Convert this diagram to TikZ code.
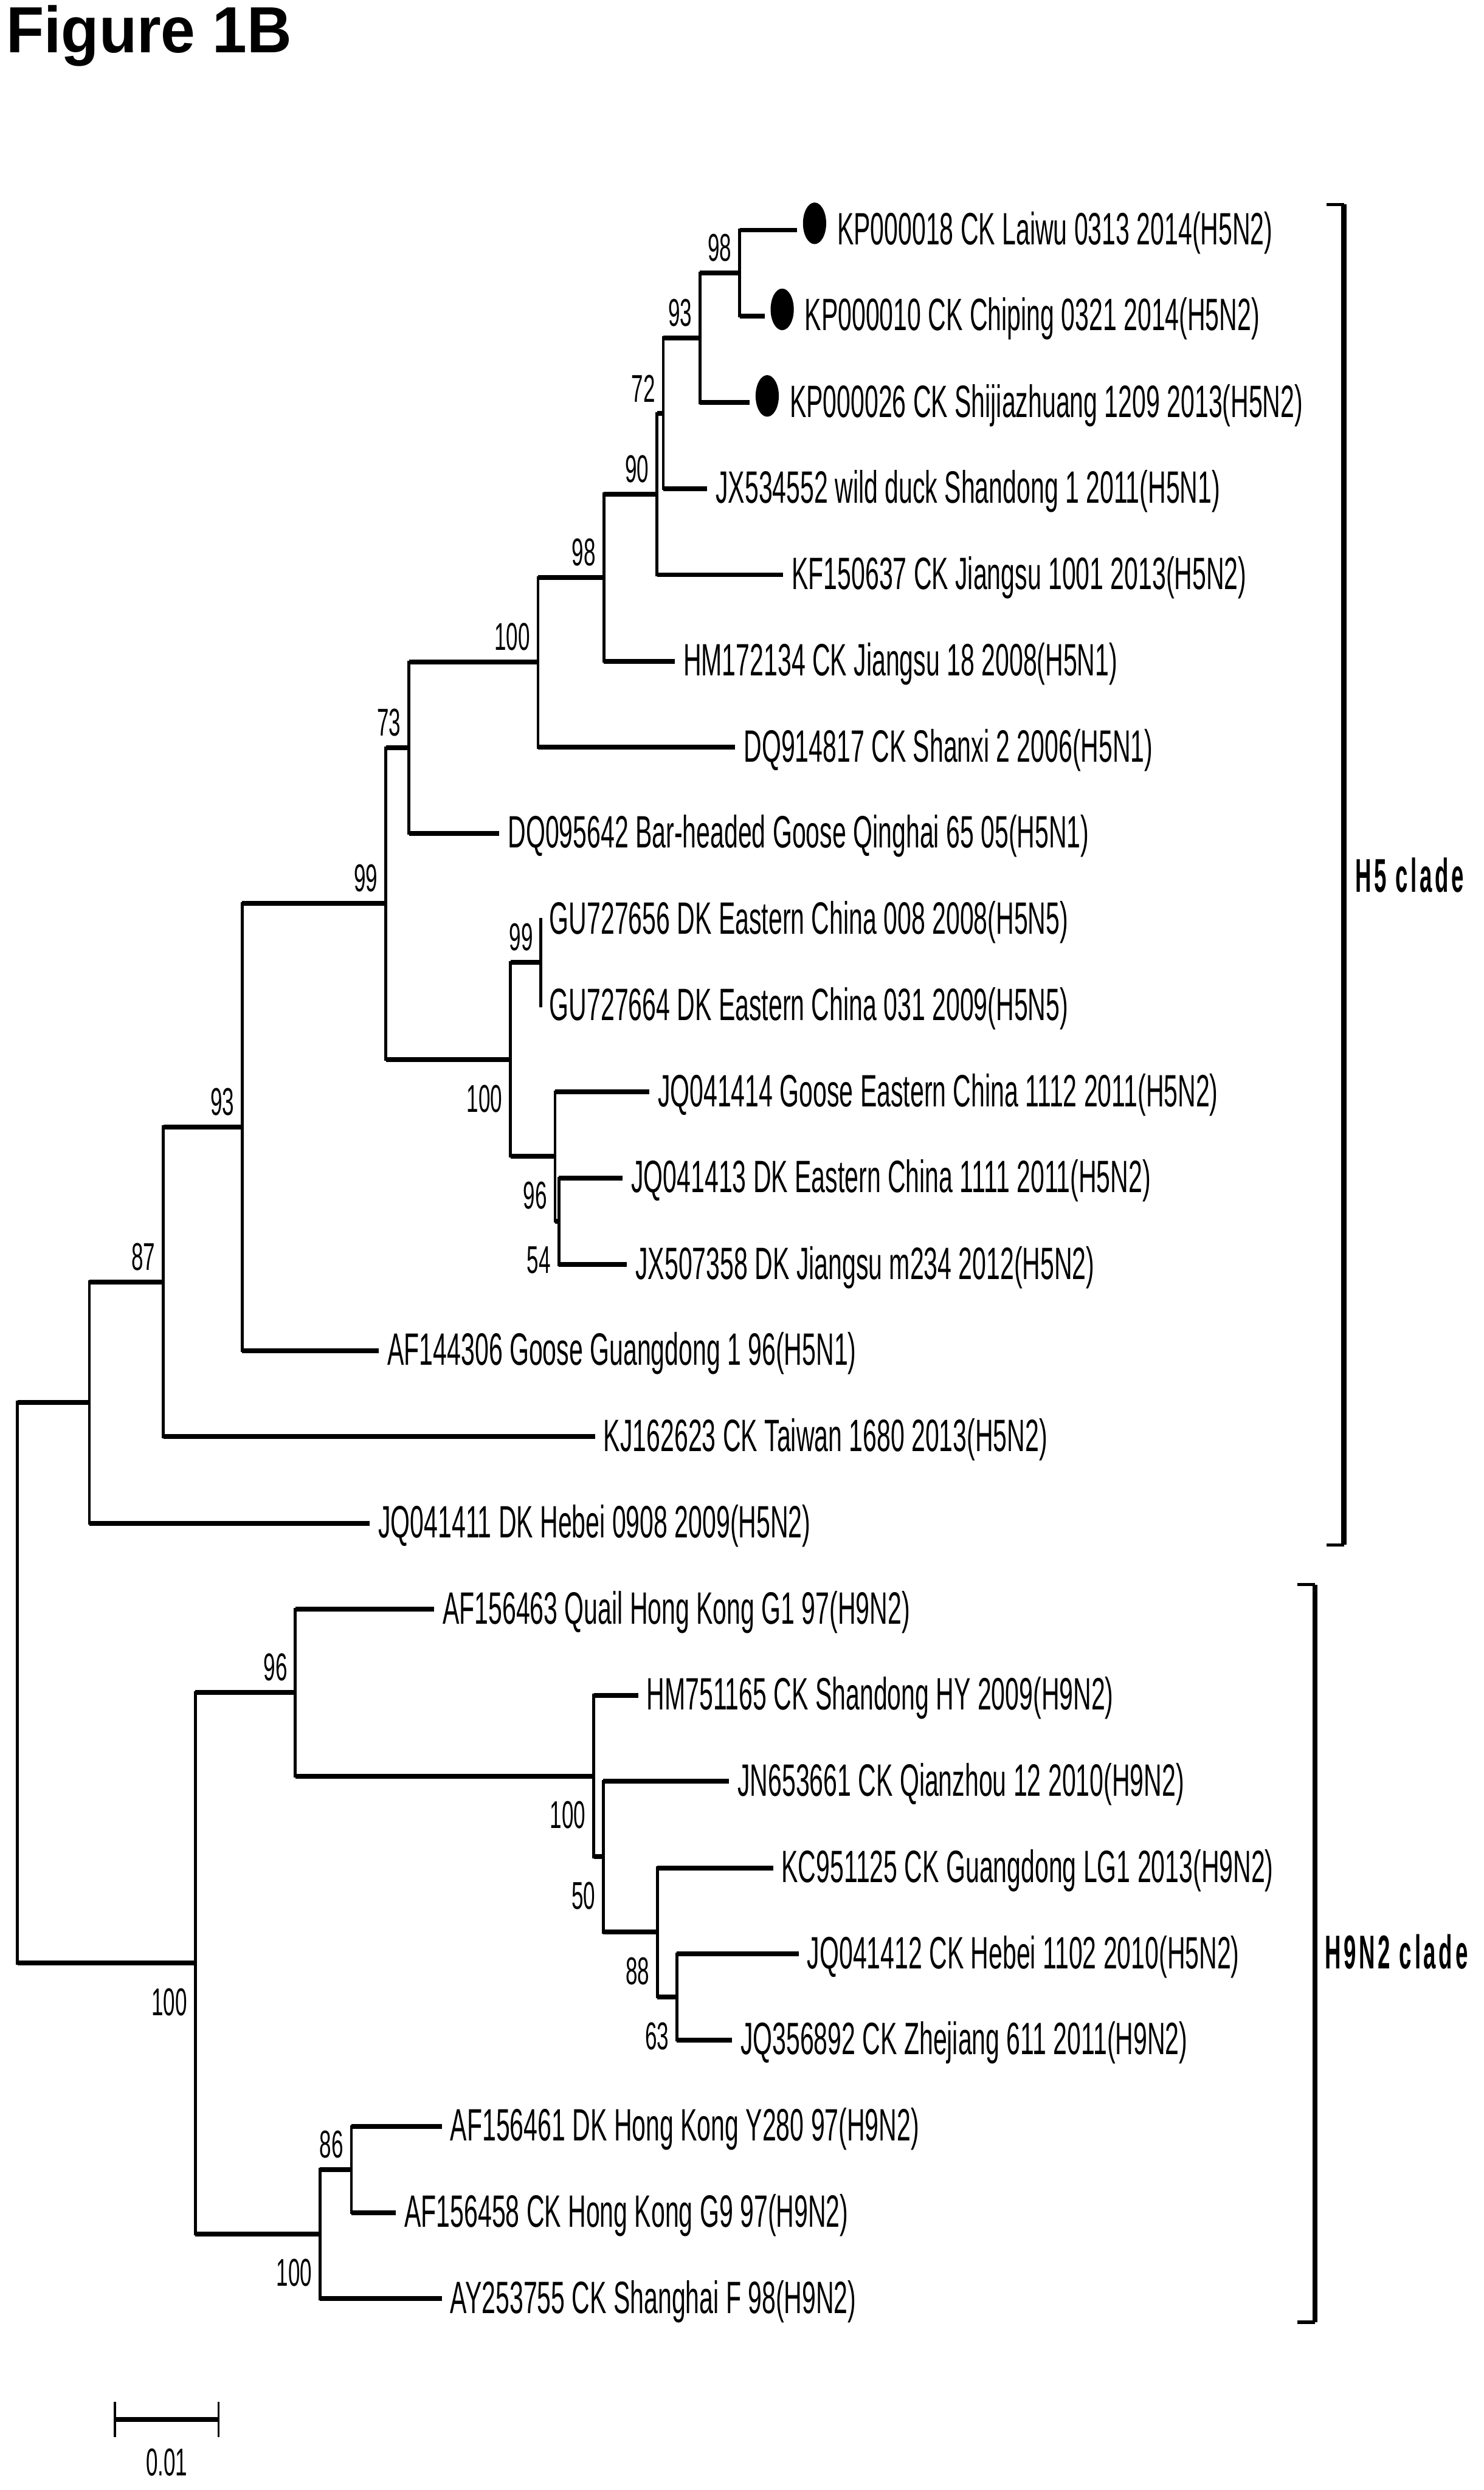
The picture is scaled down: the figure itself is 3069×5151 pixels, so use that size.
\documentclass[tikz,border=0pt]{standalone}
\usepackage{fontspec}
\usepackage{tikz}
\usetikzlibrary{positioning}
\newfontfamily\leaffont[FakeStretch=0.55]{Liberation Sans}
\newfontfamily\bsfont[FakeStretch=0.55]{Liberation Sans}
\newfontfamily\titlefont[FakeStretch=0.95]{Liberation Sans}
\newfontfamily\cladefont[FakeStretch=0.47,LetterSpace=6]{Liberation Sans}

\tikzset{
  hbr/.style={line width=1mm},
  vbr/.style={line width=0.6mm, line cap=rect},
  taxon/.style={anchor=base west, inner sep=0pt, xshift=1.7mm, yshift=-3mm,
    font=\leaffont\fontsize{26.7pt}{30pt}\selectfont},
  marked/.style={anchor=base west, inner sep=0pt, xshift=8.2mm, yshift=-3mm,
    font=\leaffont\fontsize{26.7pt}{30pt}\selectfont},
  dot/.style={fill=black},
  bsup/.style={anchor=south east, inner sep=0pt, xshift=-1.6mm, yshift=2.3mm,
    font=\bsfont\fontsize{22.8pt}{26pt}\selectfont},
  bsdn/.style={anchor=north east, inner sep=0pt, xshift=-1.6mm, yshift=-5.2mm,
    font=\bsfont\fontsize{22.8pt}{26pt}\selectfont},
  cladelab/.style={anchor=base west, inner sep=0pt,
    font=\cladefont\bfseries\fontsize{27.9pt}{30pt}\selectfont},
  brk/.style={line width=1.1mm},
  brktick/.style={line width=0.7mm},
}

% parent, upper child, lower child
\newcommand{\cladeedge}[3]{%
  \draw[vbr] (#1 |- #2) -- (#1 |- #3);
  \draw[hbr] (#1 |- #2) -- (#2);
  \draw[hbr] (#1 |- #3) -- (#3);
}

\begin{document}
\begin{tikzpicture}[x=0.1mm, y=-0.1mm]
  \useasboundingbox (0,0) rectangle (3069,5151);

  \node[anchor=base west, inner sep=0pt, font=\titlefont\bfseries\fontsize{38.4pt}{40pt}\selectfont] (title) at (12,109) {Figure 1B};

  % tips (end of branch)
  \coordinate (kp18) at (1649,476);
  \coordinate (kp10) at (1582,654);
  \coordinate (kp26) at (1551,833);
  \coordinate (jx534552) at (1463,1011);
  \coordinate (kf150637) at (1620,1189);
  \coordinate (hm172134) at (1396,1368);
  \coordinate (dq914817) at (1521,1546);
  \coordinate (dq095642) at (1033,1724);
  \coordinate (gu727656) at (1119,1902);
  \coordinate (gu727664) at (1119,2081);
  \coordinate (jq041414) at (1343,2259);
  \coordinate (jq041413) at (1288,2437);
  \coordinate (jx507358) at (1297,2616);
  \coordinate (af144306) at (784,2794);
  \coordinate (kj162623) at (1231,2972);
  \coordinate (jq041411) at (765,3151);
  \coordinate (af156463) at (898,3329);
  \coordinate (hm751165) at (1320,3507);
  \coordinate (jn653661) at (1508,3685);
  \coordinate (kc951125) at (1599,3864);
  \coordinate (jq041412) at (1652,4042);
  \coordinate (jq356892) at (1514,4220);
  \coordinate (af156461) at (914,4399);
  \coordinate (af156458) at (819,4577);
  \coordinate (ay253755) at (914,4755);

  % inner nodes
  \coordinate (n98a) at (1530,565);
  \coordinate (n93a) at (1448,699);
  \coordinate (n72) at (1372,855);
  \coordinate (n90) at (1359,1022);
  \coordinate (n98b) at (1249,1195);
  \coordinate (n100a) at (1113,1370);
  \coordinate (n73) at (846,1547);
  \coordinate (n99b) at (1119,1991);
  \coordinate (n54) at (1156,2526);
  \coordinate (n96a) at (1148,2392);
  \coordinate (n100b) at (1056,2192);
  \coordinate (n99a) at (798,1869);
  \coordinate (n93b) at (501,2331);
  \coordinate (n87) at (338,2652);
  \coordinate (h5root) at (185,2901);
  \coordinate (n63) at (1400,4131);
  \coordinate (n88) at (1360,3997);
  \coordinate (n50) at (1248,3841);
  \coordinate (n100c) at (1228,3674);
  \coordinate (n96b) at (611,3501);
  \coordinate (n86) at (727,4488);
  \coordinate (n100d) at (662,4621);
  \coordinate (h9root) at (404,4061);
  \coordinate (root) at (36,3481);

  % branches
  \cladeedge{n98a}{kp18}{kp10}
  \cladeedge{n93a}{n98a}{kp26}
  \cladeedge{n72}{n93a}{jx534552}
  \cladeedge{n90}{n72}{kf150637}
  \cladeedge{n98b}{n90}{hm172134}
  \cladeedge{n100a}{n98b}{dq914817}
  \cladeedge{n73}{n100a}{dq095642}
  \cladeedge{n99b}{gu727656}{gu727664}
  \cladeedge{n54}{jq041413}{jx507358}
  \cladeedge{n96a}{jq041414}{n54}
  \cladeedge{n100b}{n99b}{n96a}
  \cladeedge{n99a}{n73}{n100b}
  \cladeedge{n93b}{n99a}{af144306}
  \cladeedge{n87}{n93b}{kj162623}
  \cladeedge{h5root}{n87}{jq041411}
  \cladeedge{n63}{jq041412}{jq356892}
  \cladeedge{n88}{kc951125}{n63}
  \cladeedge{n50}{jn653661}{n88}
  \cladeedge{n100c}{hm751165}{n50}
  \cladeedge{n96b}{af156463}{n100c}
  \cladeedge{n86}{af156461}{af156458}
  \cladeedge{n100d}{n86}{ay253755}
  \cladeedge{h9root}{n96b}{n100d}
  \cladeedge{root}{h5root}{h9root}

  % marked strains
  \foreach \t in {kp18,kp10,kp26}
    \fill[dot] ([xshift=3.6mm, yshift=1.4mm]\t) ellipse [x radius=2.4mm, y radius=4.3mm];
  \node[marked] (lab-kp18) at (kp18) {KP000018 CK Laiwu 0313 2014(H5N2)};
  \node[marked] (lab-kp10) at (kp10) {KP000010 CK Chiping 0321 2014(H5N2)};
  \node[marked] (lab-kp26) at (kp26) {KP000026 CK Shijiazhuang 1209 2013(H5N2)};

  % taxon names
  \foreach \t/\s in {
      jx534552/{JX534552 wild duck Shandong 1 2011(H5N1)},
      kf150637/{KF150637 CK Jiangsu 1001 2013(H5N2)},
      hm172134/{HM172134 CK Jiangsu 18 2008(H5N1)},
      dq914817/{DQ914817 CK Shanxi 2 2006(H5N1)},
      dq095642/{DQ095642 Bar-headed Goose Qinghai 65 05(H5N1)},
      gu727656/{GU727656 DK Eastern China 008 2008(H5N5)},
      gu727664/{GU727664 DK Eastern China 031 2009(H5N5)},
      jq041414/{JQ041414 Goose Eastern China 1112 2011(H5N2)},
      jq041413/{JQ041413 DK Eastern China 1111 2011(H5N2)},
      jx507358/{JX507358 DK Jiangsu m234 2012(H5N2)},
      af144306/{AF144306 Goose Guangdong 1 96(H5N1)},
      kj162623/{KJ162623 CK Taiwan 1680 2013(H5N2)},
      jq041411/{JQ041411 DK Hebei 0908 2009(H5N2)},
      af156463/{AF156463 Quail Hong Kong G1 97(H9N2)},
      hm751165/{HM751165 CK Shandong HY 2009(H9N2)},
      jn653661/{JN653661 CK Qianzhou 12 2010(H9N2)},
      kc951125/{KC951125 CK Guangdong LG1 2013(H9N2)},
      jq041412/{JQ041412 CK Hebei 1102 2010(H5N2)},
      jq356892/{JQ356892 CK Zhejiang 611 2011(H9N2)},
      af156461/{AF156461 DK Hong Kong Y280 97(H9N2)},
      af156458/{AF156458 CK Hong Kong G9 97(H9N2)},
      ay253755/{AY253755 CK Shanghai F 98(H9N2)}}
    \node[taxon] (lab-\t) at (\t) {\s};

  % bootstrap values
  \foreach \n/\v in {n98a/98, n93a/93, n72/72, n90/90, n98b/98, n100a/100,
      n73/73, n99a/99, n99b/99, n93b/93, n87/87, n96b/96, n86/86}
    \node[bsup] (bs-\n) at (\n) {\v};
  \foreach \n/\v in {n100b/100, n96a/96, n54/54, n100c/100, n50/50,
      n88/88, n63/63, n100d/100, h9root/100}
    \node[bsdn] (bs-\n) at (\n) {\v};

  % clade brackets
  \coordinate (h5top) at (2780,423);
  \coordinate (h5bot) at (2780,3196);
  \coordinate (h9top) at (2720,3278);
  \coordinate (h9bot) at (2720,4804);
  \draw[brk] (h5top) -- (h5bot);
  \draw[brktick] (h5top) -- ++(-36,0);
  \draw[brktick] (h5bot) -- ++(-36,0);
  \draw[brk] (h9top) -- (h9bot);
  \draw[brktick] (h9top) -- ++(-36,0);
  \draw[brktick] (h9bot) -- ++(-36,0);
  \node[cladelab] (h5lab) at (2803,1846) {H5 clade};
  \node[cladelab] (h9lab) at (2740,4073) {H9N2 clade};

  % scale bar
  \coordinate (sbl) at (238,5005);
  \coordinate (sbr) at (452,5005);
  \draw[hbr] (sbl) -- (sbr);
  \draw[line width=0.45mm] ([yshift=3.6mm]sbl) -- ([yshift=-3.6mm]sbl);
  \draw[line width=0.45mm] ([yshift=3.6mm]sbr) -- ([yshift=-3.6mm]sbr);
  \node[anchor=base, inner sep=0pt, font=\bsfont\fontsize{22.8pt}{26pt}\selectfont] (sblab) at (345,5122) {0.01};
\end{tikzpicture}
\end{document}
